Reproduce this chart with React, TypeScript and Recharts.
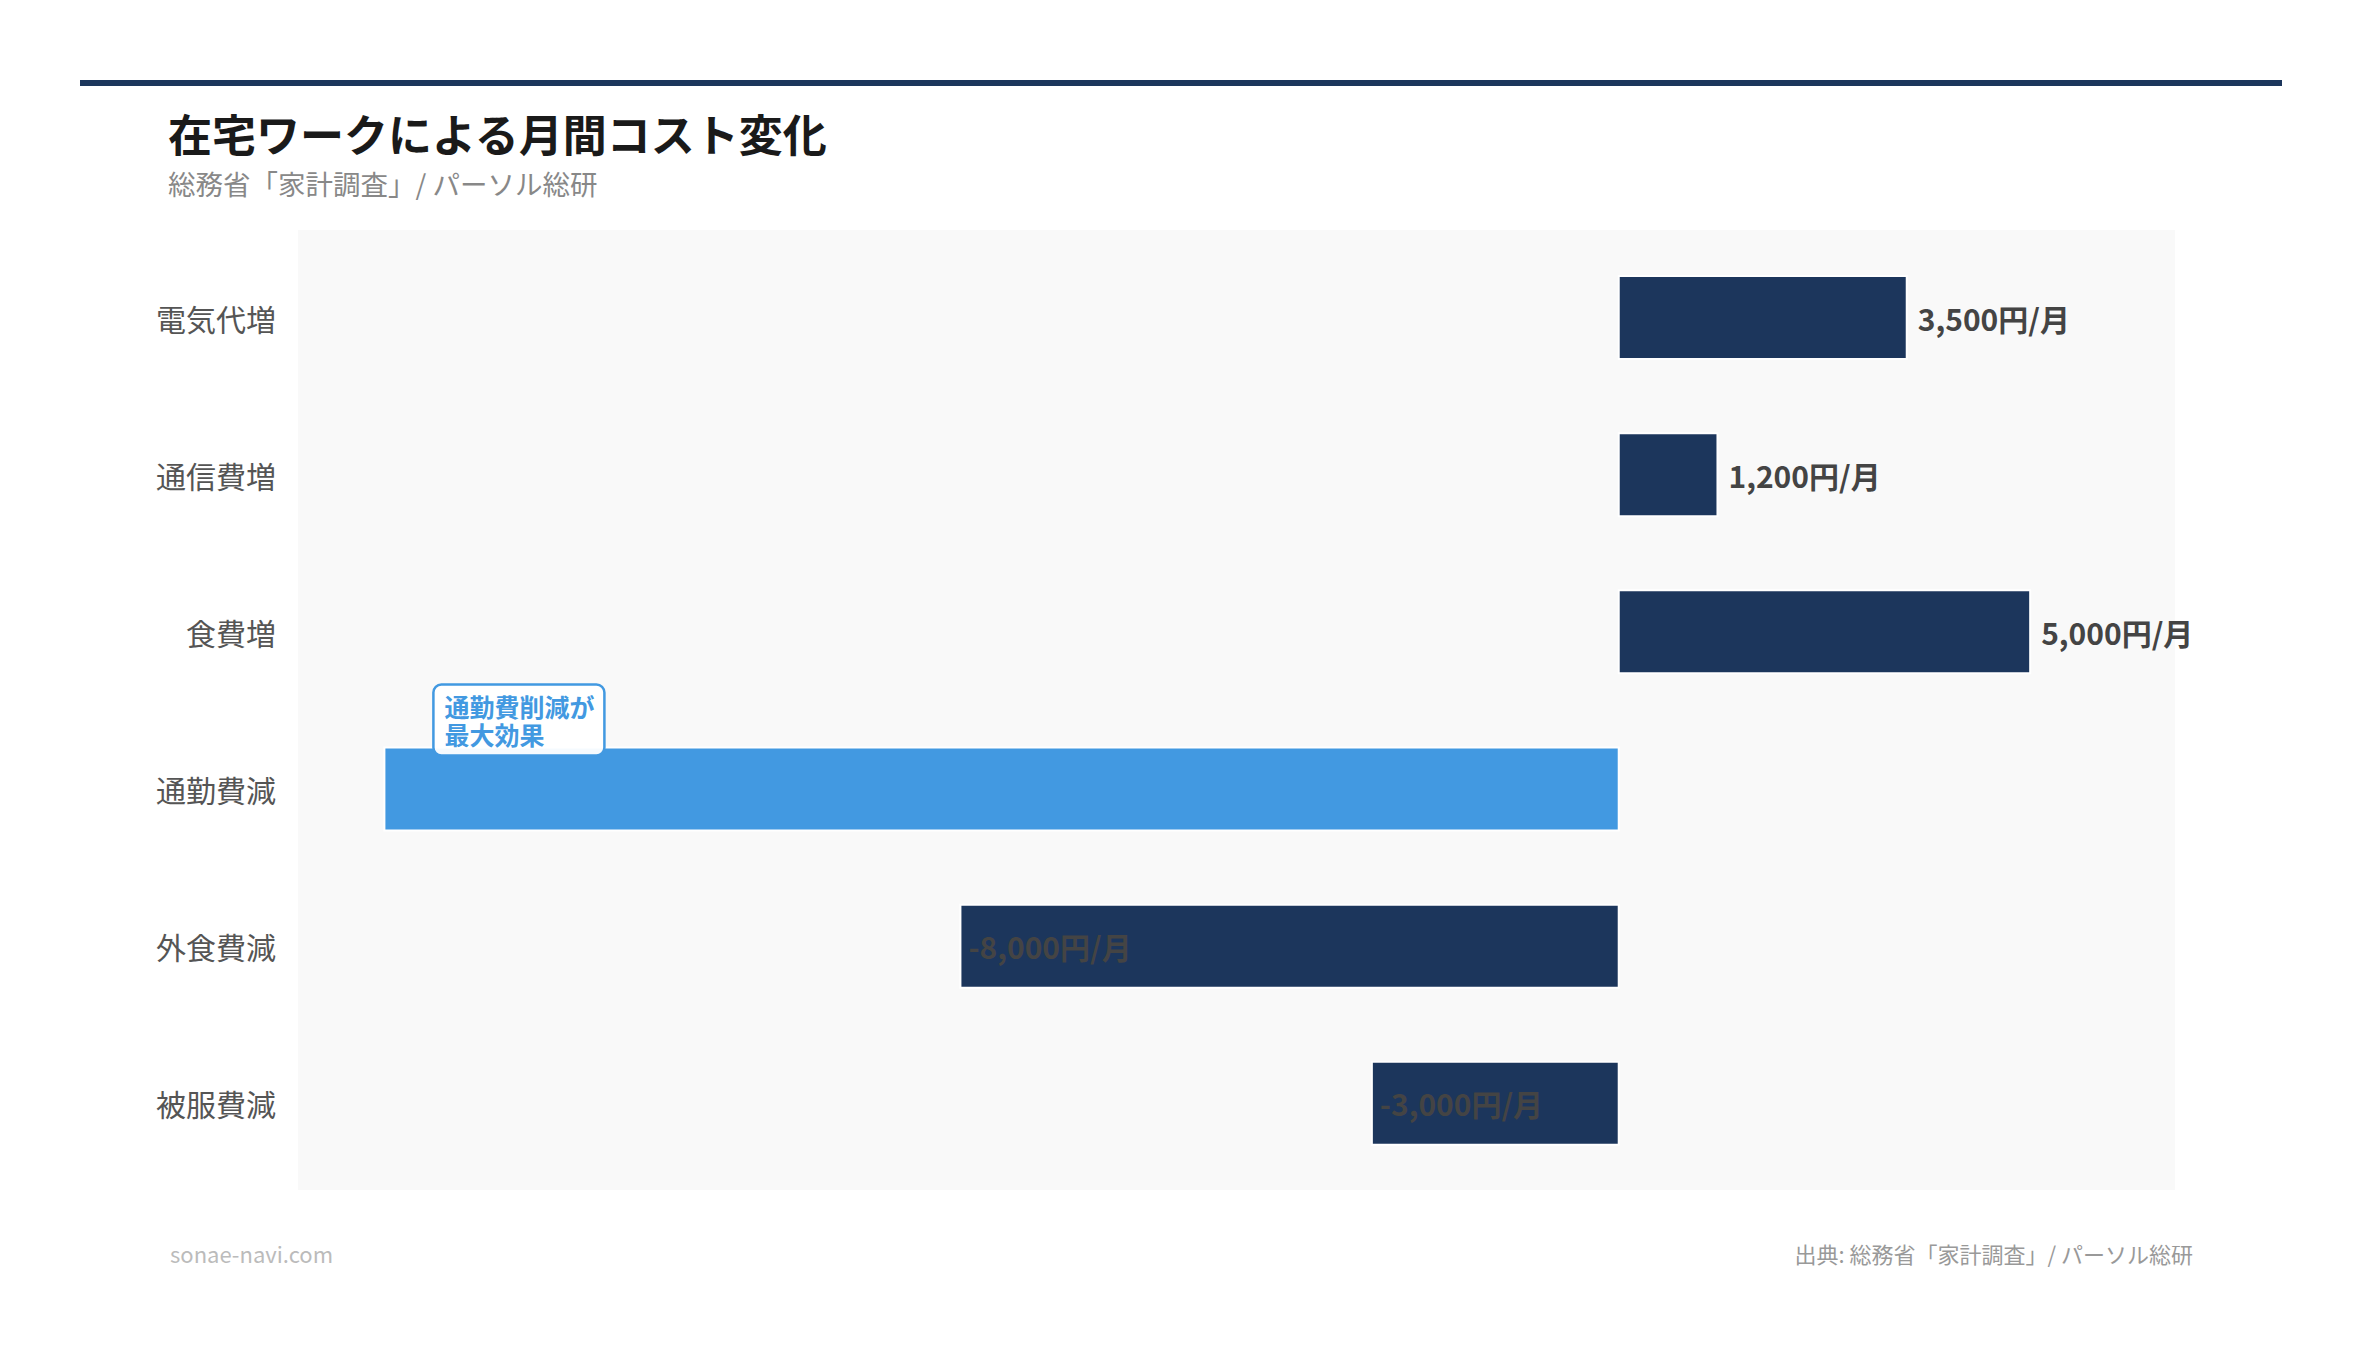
import React from "react";
import { BarChart, Bar, XAxis, YAxis, CartesianGrid, Cell, LabelList } from "recharts";

const categories = ["電気代増", "通信費増", "食費増", "通勤費減", "外食費減", "被服費減"];
const values = [3500, 1200, 5000, -15000, -8000, -3000];
const valueLabels = ["3,500円/月", "1,200円/月", "5,000円/月", "", "-8,000円/月", "-3,000円/月"];
const highlightIndex = 3;
const noteLines = ["通勤費削減が", "最大効果"];

const NAVY = "#1c365c";
const BLUE = "#4299e1";
const FONT = '"Noto Sans CJK JP", "Noto Sans", sans-serif';

const data = categories.map((name, i) => ({ name, value: values[i], label: valueLabels[i] }));

function ValueLabel(props: any) {
  const { x, y, width, height, index } = props;
  const left = Math.min(x, x + width);
  const right = Math.max(x, x + width);
  const cy = y + height / 2;
  const text = valueLabels[index];
  const isNeg = values[index] < 0;

  // callout box sits over the biggest saving
  if (index === highlightIndex) {
    const bx = left + 49;
    const by = y - 63;
    return (
      <g>
        <rect x={bx} y={by} width={171} height={71} rx={8} fill="rgba(255,255,255,0.95)" stroke={BLUE} strokeWidth={2.5} />
        <text fontFamily={FONT} fontSize={25} fontWeight={700} fill={BLUE} dominantBaseline="central">
          {noteLines.map((line, k) => (
            <tspan key={k} x={bx + 11} y={by + 21 + k * 28.5}>
              {line}
            </tspan>
          ))}
        </text>
      </g>
    );
  }
  if (!text) return null;
  return (
    <text
      x={isNeg ? left + 8 : right + 11}
      y={cy}
      dominantBaseline="central"
      textAnchor="start"
      fontFamily={FONT}
      fontSize={30}
      fontWeight={700}
      fill="#444444"
    >
      {text}
    </text>
  );
}

function CategoryTick(props: any) {
  const { x, y, payload } = props;
  return (
    <text x={x} y={y} textAnchor="end" dominantBaseline="central" fontFamily={FONT} fontSize={30} fill="#555555">
      {payload.value}
    </text>
  );
}

export default function App() {
  return (
    <div style={{ position: "absolute", left: 0, top: 0, width: 2360, height: 1347, background: "#ffffff", fontFamily: FONT }}>
      <div style={{ position: "absolute", left: 80, top: 80, width: 2202, height: 6, background: NAVY }} />
      <div style={{ position: "absolute", left: 168, top: 105, fontSize: 44, fontWeight: 700, color: "#1a1a1a", lineHeight: "56px" }}>
        在宅ワークによる月間コスト変化
      </div>
      <div style={{ position: "absolute", left: 168, top: 166, fontSize: 27.5, color: "#888888", lineHeight: "34px" }}>
        総務省「家計調査」/ パーソル総研
      </div>

      <div style={{ position: "absolute", left: 0, top: 0 }}>
        <BarChart
          layout="vertical"
          width={2360}
          height={1347}
          data={data}
          margin={{ top: 230, right: 185, bottom: 157, left: 98 }}
        >
          <CartesianGrid horizontal={false} vertical={false} fill="#f9f9f9" />
          <XAxis type="number" domain={[-16050, 6760]} hide allowDataOverflow />
          <YAxis
            type="category"
            dataKey="name"
            width={200}
            axisLine={false}
            tickLine={false}
            tickSize={0}
            tickMargin={22}
            padding={{ top: 9, bottom: 8 }}
            tick={<CategoryTick />}
          />
          <Bar dataKey="value" barSize={83} stroke="#ffffff" strokeWidth={2} isAnimationActive={false}>
            {data.map((_, i) => (
              <Cell key={i} fill={i === highlightIndex ? BLUE : NAVY} />
            ))}
            <LabelList dataKey="label" content={<ValueLabel />} />
          </Bar>
        </BarChart>
      </div>

      <div style={{ position: "absolute", left: 170, top: 1238, fontSize: 22, color: "#bbbbbb", lineHeight: "30px" }}>
        sonae-navi.com
      </div>
      <div style={{ position: "absolute", right: 167, top: 1238, fontSize: 22, color: "#999999", lineHeight: "30px" }}>
        出典: 総務省「家計調査」/ パーソル総研
      </div>
    </div>
  );
}
